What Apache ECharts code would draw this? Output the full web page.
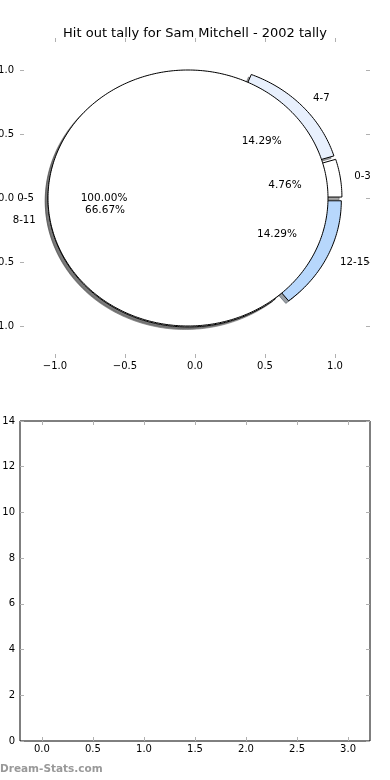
<!DOCTYPE html>
<html><head><meta charset="utf-8">
<script src="https://cdn.jsdelivr.net/npm/echarts@6/dist/echarts.min.js"></script>
<style>html,body{margin:0;padding:0;background:#fff}#c{width:390px;height:780px}</style>
</head><body><div id="c"></div>
<script>
// ---- data ----
const titleText = 'Hit out tally for Sam Mitchell - 2002 tally';
const pieCategories = ['0-3', '4-7', '8-11', '12-15'];
const pieValues = [1, 3, 14, 3];
const pieColors = ['#ffffff', '#e8f0fd', '#ffffff', '#b7d7fc'];
const overlayCategories = ['0-5'];
const overlayValues = [1];
const overlayColors = ['#ffffff'];
const pieTicks = [-1.0, -0.5, 0.0, 0.5, 1.0];
const barXTicks = [0, 0.5, 1.0, 1.5, 2.0, 2.5, 3.0];
const barYTicks = [0, 2, 4, 6, 8, 10, 12, 14];
const barValues = [];
const watermark = 'Dream-Stats.com';

// ---- pie geometry (matplotlib style) ----
const R = 1, EXPLODE = 0.05, LABEL_D = 1.1, PCT_D = 0.6, SHADOW = 0.02;
const FONT = "'DejaVu Sans', sans-serif";

function buildWedges(values, colors, labels) {
  const total = values.reduce((a, b) => a + b, 0);
  let t = 0;
  return values.map((v, i) => {
    const t1 = t, t2 = t + 360 * v / total;
    t = t2;
    return { t1, t2, color: colors[i], label: labels[i], pct: (100 * v / total).toFixed(2) + '%' };
  });
}
const pieWedges = buildWedges(pieValues, pieColors, pieCategories);
const overlayWedges = buildWedges(overlayValues, overlayColors, overlayCategories);

function shade(hex) {
  const n = parseInt(hex.slice(1), 16);
  const r = Math.round(((n >> 16) & 255) * 0.3), g = Math.round(((n >> 8) & 255) * 0.3), b = Math.round((n & 255) * 0.3);
  return 'rgba(' + r + ',' + g + ',' + b + ',0.5)';
}

function makeRender(wedges, mode) {
  return function (params, api) {
    const w = wedges[params.dataIndex];
    const tm = (w.t1 + w.t2) / 2 * Math.PI / 180;
    const cx = EXPLODE * Math.cos(tm), cy = EXPLODE * Math.sin(tm);
    if (mode === 'label') {
      const lx = cx + LABEL_D * R * Math.cos(tm), ly = cy + LABEL_D * R * Math.sin(tm);
      const px = cx + PCT_D * R * Math.cos(tm), py = cy + PCT_D * R * Math.sin(tm);
      const lp = api.coord([lx, ly]), pp = api.coord([px, py]);
      return { type: 'group', children: [
        { type: 'text', x: lp[0], y: lp[1], style: { text: w.label, fill: '#000', fontSize: 10.2, fontFamily: FONT, align: lx > 0 ? 'left' : 'right', verticalAlign: 'middle' } },
        { type: 'text', x: pp[0], y: pp[1], style: { text: w.pct, fill: '#000', fontSize: 10.5, fontFamily: FONT, align: 'center', verticalAlign: 'middle' } }
      ] };
    }
    const off = mode === 'shadow' ? -SHADOW : 0;
    const full = (w.t2 - w.t1) >= 359.999;
    const pts = [];
    if (!full) pts.push(api.coord([cx + off, cy + off]));
    const n = Math.max(4, Math.ceil((w.t2 - w.t1) / 1));
    for (let i = 0; i <= n; i++) {
      const a = (w.t1 + (w.t2 - w.t1) * i / n) * Math.PI / 180;
      pts.push(api.coord([cx + off + R * Math.cos(a), cy + off + R * Math.sin(a)]));
    }
    const style = mode === 'shadow'
      ? { fill: shade(w.color), stroke: shade(w.color), lineWidth: 1 }
      : { fill: w.color, stroke: '#000', lineWidth: 1 };
    return { type: 'polygon', shape: { points: pts }, style };
  };
}

function fmt1(v) { return (v < 0 ? '\u2212' : '') + Math.abs(v).toFixed(1); }

const tickStyle = { show: true, inside: true, length: 4, lineStyle: { color: '#b0b0b0', width: 1 } };
const lblStyle = { color: '#000', fontSize: 10, fontFamily: FONT };
const noLine = { show: false, onZero: false };

function pieSeries(wedges, values, mode, z) {
  return { type: 'custom', xAxisIndex: 0, yAxisIndex: 0, z, silent: true,
    renderItem: makeRender(wedges, mode), data: values.map((v, i) => [i, v]) };
}

const chart = echarts.init(document.getElementById('c'), null, { renderer: 'canvas' });
chart.setOption({
  animation: false,
  backgroundColor: '#fff',
  title: { text: titleText, left: 'center', top: 22, textStyle: { fontSize: 13, fontWeight: 'normal', color: '#000', fontFamily: FONT } },
  grid: [
    { left: 20, top: 38, width: 350, height: 320, show: false, containLabel: false, outerBoundsMode: 'none' },
    { left: 20, top: 421, width: 350, height: 320, show: true, borderColor: '#000', borderWidth: 1, backgroundColor: 'transparent', containLabel: false, outerBoundsMode: 'none' }
  ],
  xAxis: [
    { gridIndex: 0, type: 'value', min: -1.25, max: 1.25, position: 'bottom', axisLine: noLine, splitLine: { show: false },
      axisTick: Object.assign({ customValues: pieTicks }, tickStyle),
      axisLabel: Object.assign({ customValues: pieTicks, margin: 3, formatter: fmt1 }, lblStyle) },
    { gridIndex: 0, type: 'value', min: -1.25, max: 1.25, position: 'top', axisLine: noLine, splitLine: { show: false },
      axisTick: Object.assign({ customValues: pieTicks }, tickStyle), axisLabel: { show: false } },
    { gridIndex: 1, type: 'value', min: -0.215, max: 3.215, position: 'bottom', axisLine: noLine, splitLine: { show: false },
      axisTick: Object.assign({ customValues: barXTicks }, tickStyle),
      axisLabel: Object.assign({ customValues: barXTicks, margin: 3, formatter: fmt1 }, lblStyle) },
    { gridIndex: 1, type: 'value', min: -0.215, max: 3.215, position: 'top', axisLine: noLine, splitLine: { show: false },
      axisTick: Object.assign({ customValues: barXTicks }, tickStyle), axisLabel: { show: false } }
  ],
  yAxis: [
    { gridIndex: 0, type: 'value', min: -1.25, max: 1.25, position: 'left', axisLine: noLine, splitLine: { show: false },
      axisTick: Object.assign({ customValues: pieTicks }, tickStyle),
      axisLabel: Object.assign({ customValues: pieTicks, margin: 6, formatter: fmt1 }, lblStyle) },
    { gridIndex: 0, type: 'value', min: -1.25, max: 1.25, position: 'right', axisLine: noLine, splitLine: { show: false },
      axisTick: Object.assign({ customValues: pieTicks }, tickStyle), axisLabel: { show: false } },
    { gridIndex: 1, type: 'value', min: 0, max: 14, position: 'left', axisLine: noLine, splitLine: { show: false },
      axisTick: Object.assign({ customValues: barYTicks }, tickStyle),
      axisLabel: Object.assign({ customValues: barYTicks, margin: 5, formatter: v => String(v) }, lblStyle) },
    { gridIndex: 1, type: 'value', min: 0, max: 14, position: 'right', axisLine: noLine, splitLine: { show: false },
      axisTick: Object.assign({ customValues: barYTicks }, tickStyle), axisLabel: { show: false } }
  ],
  graphic: [
    { type: 'text', left: 0, top: 764, style: { text: watermark, fill: '#999', fontSize: 10.5, fontWeight: 'bold', fontFamily: FONT } }
  ],
  series: [
    pieSeries(pieWedges, pieValues, 'shadow', 1),
    pieSeries(overlayWedges, overlayValues, 'shadow', 1),
    pieSeries(pieWedges, pieValues, 'wedge', 2),
    pieSeries(overlayWedges, overlayValues, 'wedge', 3),
    pieSeries(pieWedges, pieValues, 'label', 4),
    pieSeries(overlayWedges, overlayValues, 'label', 4),
    { type: 'bar', xAxisIndex: 2, yAxisIndex: 2, data: barValues }
  ]
});
</script></body></html>
